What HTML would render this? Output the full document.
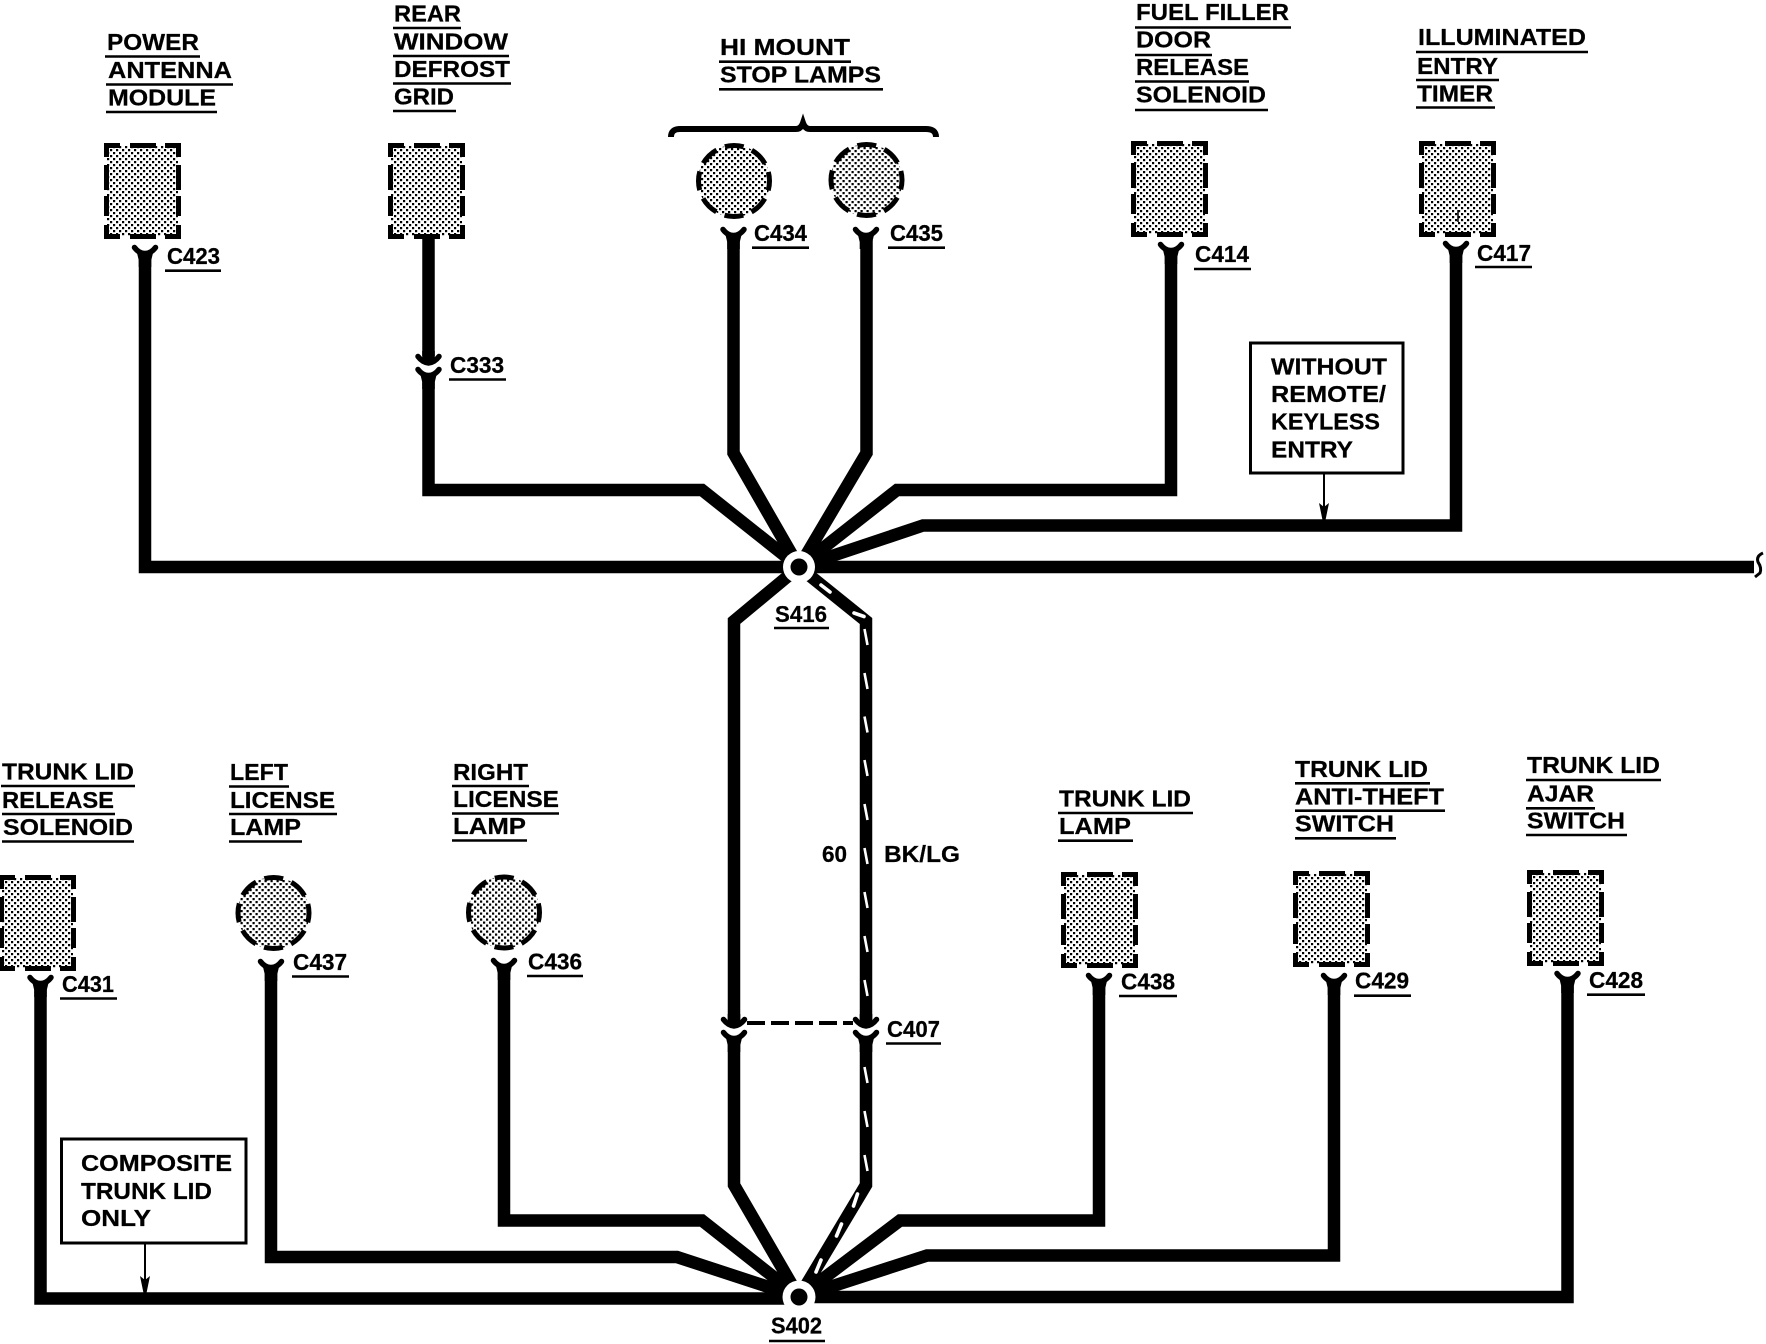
<!DOCTYPE html>
<html><head><meta charset="utf-8"><style>
html,body{margin:0;padding:0;background:#fff;width:1766px;height:1344px;overflow:hidden}
svg{display:block}
text{font-family:"Liberation Sans",sans-serif;font-weight:bold;font-size:23px;fill:#000;stroke:#000;stroke-width:.25px}
.w{fill:none;stroke:#000;stroke-width:12.5;stroke-linejoin:miter;stroke-miterlimit:8}
.u{stroke:#000;stroke-width:2.6;fill:none}
.d{fill:none;stroke:#000;stroke-width:5}
.t{stroke:#fff;stroke-width:2.6;fill:none}
.t2{stroke:#fff;stroke-width:3.6;fill:none;stroke-linecap:round}
.f{fill:#fff;stroke:#000;stroke-width:3}
</style></head><body>
<svg xmlns="http://www.w3.org/2000/svg" width="1766" height="1344" viewBox="0 0 1766 1344">
<defs>
<pattern id="st" patternUnits="userSpaceOnUse" width="6" height="6"><rect width="6" height="6" fill="#fff"/><rect width="2.2" height="2.2" fill="#000"/><rect x="3" y="3" width="2.2" height="2.2" fill="#000"/></pattern>
<g id="box">
<rect x="3" y="3" width="71" height="90" fill="url(#st)"/>
<path class="d" d="M2.5 14V2.5H16M61 2.5H74.5V14M2.5 82V93.5H16M61 93.5H74.5V82M26 2.5H52M26 93.5H52M2.5 22V47M2.5 53V73M74.5 22V47M74.5 53V73"/>
</g>
<g id="circ">
<circle r="36" fill="url(#st)"/>
<circle r="35.5" fill="none" stroke="#000" stroke-width="5" stroke-dasharray="19 8.88" stroke-dashoffset="9.5"/>
</g>
<g id="y">
<path d="M-10.5 2.5Q-6 8.5 0 8.5Q6 8.5 10.5 2.5" fill="none" stroke="#000" stroke-width="5.5" stroke-linecap="round"/>
<path d="M-8 8L8 8L6.3 15V22H-6.3V15Z"/>
</g>
<g id="a">
<path d="M-10.5 1.5Q-6 7.5 0 8Q6 7.5 10.5 1.5" fill="none" stroke="#000" stroke-width="5.5" stroke-linecap="round"/>
<path d="M-6.3 -4H6.3V8H-6.3Z"/>
</g>
</defs>
<rect width="1766" height="1344" fill="#fff"/>

<!-- components -->
<use href="#box" x="104" y="143"/>
<use href="#box" x="388" y="143"/>
<use href="#circ" x="734" y="181"/>
<use href="#circ" x="866.5" y="180"/>
<use href="#box" x="1131" y="141"/>
<use href="#box" x="1419" y="141"/>
<use href="#box" x="-1" y="875"/>
<use href="#circ" x="273.5" y="913"/>
<use href="#circ" x="504" y="912.5"/>
<use href="#box" x="1061" y="872"/>
<use href="#box" x="1293" y="871"/>
<use href="#box" x="1527" y="870"/>
<path d="M1458 210V222" stroke="#000" stroke-width="1.5"/>

<!-- brace -->
<path d="M671 137Q671 129 680 129H796Q801 129 803 123Q805 129 810 129H926Q936 129 936 137" fill="none" stroke="#000" stroke-width="6"/>

<!-- wires top -->
<path class="w" d="M145 255V567H799"/>
<path class="w" d="M428.5 238V356"/>
<path class="w" d="M428.5 378V490H702L799 567"/>
<path class="w" d="M733.5 240V453L799 567"/>
<path class="w" d="M866.5 240V453L799 567"/>
<path class="w" d="M1171 255V490H897L799 567"/>
<path class="w" d="M1456 255V525.5H923L799 567"/>
<path class="w" d="M799 567H1754"/>
<path d="M1763 553Q1756 556 1758 562Q1762 568 1760 573L1755 577" fill="none" stroke="#000" stroke-width="3"/>

<!-- trunk verticals -->
<path class="w" d="M799 567L734 621V1020"/>
<path class="w" d="M866 1020V621L799 567"/>
<path class="w" d="M734 1040V1185L799 1297"/>
<path class="w" d="M866 1040V1185L799 1297"/>

<!-- wires bottom -->
<path class="w" d="M40.5 985V1298.5H799"/>
<path class="w" d="M271 970V1257H677L799 1297"/>
<path class="w" d="M504 970V1220.5H702L799 1297"/>
<path class="w" d="M1099 985V1220.5H900L799 1297"/>
<path class="w" d="M1334 985V1255.5H927L799 1297"/>
<path class="w" d="M1567.5 985V1297H799"/>

<!-- connectors -->
<use href="#y" x="145" y="245"/>
<use href="#a" x="428.5" y="355"/>
<use href="#y" x="428.5" y="367"/>
<use href="#y" x="733.5" y="227"/>
<use href="#y" x="866" y="227"/>
<use href="#y" x="1171" y="242"/>
<use href="#y" x="1456" y="241"/>
<use href="#y" x="40.5" y="975"/>
<use href="#y" x="271" y="959"/>
<use href="#y" x="504" y="958"/>
<use href="#y" x="1099" y="973"/>
<use href="#y" x="1334" y="973"/>
<use href="#y" x="1567.5" y="971"/>
<use href="#a" x="734" y="1018"/>
<use href="#a" x="866" y="1018"/>
<use href="#y" x="734" y="1030"/>
<use href="#y" x="866" y="1030"/>
<path d="M747 1023H853" stroke="#000" stroke-width="4" stroke-dasharray="18 6" fill="none"/>

<!-- white tracer -->
<path class="t" d="M864.5 629l3 16M864.5 673l3 16M864.5 716.5l3 16M864.5 760l3 16M864.5 804l3 16M864.5 848l3 16M864.5 892l3 16M864.5 936l3 16M864.5 980l3 16M864.5 1067l3 16M864.5 1111l3 16M864.5 1155l3 16"/>
<path class="t2" d="M821 585L830 592M854 613L864 616.5M857.5 1194L853.5 1206M841.5 1224L836.5 1236M821 1260L816 1272"/>

<!-- splices -->
<circle cx="799" cy="567" r="16" fill="#fff"/><circle cx="799" cy="567" r="8.5" fill="#000"/>
<circle cx="799" cy="1297" r="16.5" fill="#fff"/><circle cx="799" cy="1297" r="8.5" fill="#000"/>

<!-- top labels -->
<text x="107" y="50" textLength="92" lengthAdjust="spacingAndGlyphs">POWER</text><path class="u" d="M105 56.5H200"/>
<text x="108" y="78" textLength="124" lengthAdjust="spacingAndGlyphs">ANTENNA</text><path class="u" d="M106 84.5H233"/>
<text x="108" y="105.5" textLength="108" lengthAdjust="spacingAndGlyphs">MODULE</text><path class="u" d="M106 112H217"/>

<text x="394" y="21.7" textLength="67" lengthAdjust="spacingAndGlyphs">REAR</text><path class="u" d="M393 28H461"/>
<text x="394" y="49.5" textLength="114" lengthAdjust="spacingAndGlyphs">WINDOW</text><path class="u" d="M393 56H509"/>
<text x="394" y="77" textLength="116" lengthAdjust="spacingAndGlyphs">DEFROST</text><path class="u" d="M393 83.5H511"/>
<text x="394" y="104.3" textLength="60" lengthAdjust="spacingAndGlyphs">GRID</text><path class="u" d="M393 111H456"/>

<text x="720" y="55" textLength="130" lengthAdjust="spacingAndGlyphs">HI MOUNT</text><path class="u" d="M719 61.7H851"/>
<text x="720" y="82.3" textLength="161" lengthAdjust="spacingAndGlyphs">STOP LAMPS</text><path class="u" d="M719 89.3H883"/>

<text x="1136" y="20" textLength="153" lengthAdjust="spacingAndGlyphs">FUEL FILLER</text><path class="u" d="M1135 27.5H1291"/>
<text x="1136" y="47.5" textLength="75" lengthAdjust="spacingAndGlyphs">DOOR</text><path class="u" d="M1135 55H1212"/>
<text x="1136" y="75" textLength="113" lengthAdjust="spacingAndGlyphs">RELEASE</text><path class="u" d="M1135 81.5H1249"/>
<text x="1136" y="102.7" textLength="130" lengthAdjust="spacingAndGlyphs">SOLENOID</text><path class="u" d="M1135 110H1268"/>

<text x="1418" y="45" textLength="168" lengthAdjust="spacingAndGlyphs">ILLUMINATED</text><path class="u" d="M1416 52H1588"/>
<text x="1417" y="74" textLength="81" lengthAdjust="spacingAndGlyphs">ENTRY</text><path class="u" d="M1416 80H1499"/>
<text x="1417" y="101.5" textLength="76" lengthAdjust="spacingAndGlyphs">TIMER</text><path class="u" d="M1416 107.5H1495"/>

<!-- bottom labels -->
<text x="2" y="779.6" textLength="132" lengthAdjust="spacingAndGlyphs">TRUNK LID</text><path class="u" d="M1 786H135"/>
<text x="2" y="808" textLength="112" lengthAdjust="spacingAndGlyphs">RELEASE</text><path class="u" d="M2 814H115"/>
<text x="3" y="835" textLength="130" lengthAdjust="spacingAndGlyphs">SOLENOID</text><path class="u" d="M2 841.5H134"/>

<text x="230" y="780" textLength="58" lengthAdjust="spacingAndGlyphs">LEFT</text><path class="u" d="M229 786.5H289"/>
<text x="230" y="808" textLength="105" lengthAdjust="spacingAndGlyphs">LICENSE</text><path class="u" d="M229 814H337"/>
<text x="230" y="835" textLength="71" lengthAdjust="spacingAndGlyphs">LAMP</text><path class="u" d="M229 841.5H302"/>

<text x="453" y="780" textLength="75" lengthAdjust="spacingAndGlyphs">RIGHT</text><path class="u" d="M452 786H529"/>
<text x="453" y="807" textLength="106" lengthAdjust="spacingAndGlyphs">LICENSE</text><path class="u" d="M452 813.5H559"/>
<text x="453" y="834" textLength="73" lengthAdjust="spacingAndGlyphs">LAMP</text><path class="u" d="M452 840.5H527"/>

<text x="1059" y="806.7" textLength="132" lengthAdjust="spacingAndGlyphs">TRUNK LID</text><path class="u" d="M1058 813H1193"/>
<text x="1059" y="834" textLength="72" lengthAdjust="spacingAndGlyphs">LAMP</text><path class="u" d="M1058 840.7H1133"/>

<text x="1295" y="777" textLength="133" lengthAdjust="spacingAndGlyphs">TRUNK LID</text><path class="u" d="M1295 783.3H1430"/>
<text x="1295" y="804.3" textLength="149" lengthAdjust="spacingAndGlyphs">ANTI-THEFT</text><path class="u" d="M1295 810.7H1445"/>
<text x="1295" y="831.7" textLength="99" lengthAdjust="spacingAndGlyphs">SWITCH</text><path class="u" d="M1295 838.3H1396"/>

<text x="1527" y="773" textLength="133" lengthAdjust="spacingAndGlyphs">TRUNK LID</text><path class="u" d="M1526 780H1661"/>
<text x="1527" y="801.7" textLength="67" lengthAdjust="spacingAndGlyphs">AJAR</text><path class="u" d="M1526 808.3H1595"/>
<text x="1527" y="828.7" textLength="98" lengthAdjust="spacingAndGlyphs">SWITCH</text><path class="u" d="M1526 835H1627"/>

<!-- connector labels -->
<text x="167" y="264" textLength="53" lengthAdjust="spacingAndGlyphs">C423</text><path class="u" d="M165 270.7H221"/>
<text x="450" y="373" textLength="54" lengthAdjust="spacingAndGlyphs">C333</text><path class="u" d="M449 379.5H506"/>
<text x="754" y="241" textLength="53" lengthAdjust="spacingAndGlyphs">C434</text><path class="u" d="M752 247.7H809"/>
<text x="890" y="241" textLength="53" lengthAdjust="spacingAndGlyphs">C435</text><path class="u" d="M888 247.7H945"/>
<text x="1195" y="262" textLength="54" lengthAdjust="spacingAndGlyphs">C414</text><path class="u" d="M1194 269H1251"/>
<text x="1477" y="261" textLength="54" lengthAdjust="spacingAndGlyphs">C417</text><path class="u" d="M1475 267H1532"/>
<text x="775" y="622" textLength="52" lengthAdjust="spacingAndGlyphs">S416</text><path class="u" d="M774 628H829"/>
<text x="887" y="1037" textLength="53" lengthAdjust="spacingAndGlyphs">C407</text><path class="u" d="M886 1043.5H941"/>
<text x="771" y="1333.5" textLength="51" lengthAdjust="spacingAndGlyphs">S402</text><path class="u" d="M769 1341H825"/>
<text x="62" y="992" textLength="52" lengthAdjust="spacingAndGlyphs">C431</text><path class="u" d="M60 998.5H117"/>
<text x="293" y="970" textLength="54" lengthAdjust="spacingAndGlyphs">C437</text><path class="u" d="M292 976.5H349"/>
<text x="528" y="969.6" textLength="54" lengthAdjust="spacingAndGlyphs">C436</text><path class="u" d="M527 976H583"/>
<text x="1121" y="989.5" textLength="54" lengthAdjust="spacingAndGlyphs">C438</text><path class="u" d="M1119 996H1177"/>
<text x="1355" y="988.5" textLength="54" lengthAdjust="spacingAndGlyphs">C429</text><path class="u" d="M1354 995.7H1411"/>
<text x="1589" y="988" textLength="54" lengthAdjust="spacingAndGlyphs">C428</text><path class="u" d="M1587 994.7H1645"/>

<text x="822" y="862" textLength="25" lengthAdjust="spacingAndGlyphs">60</text>
<text x="884" y="862" textLength="76" lengthAdjust="spacingAndGlyphs">BK/LG</text>

<!-- note boxes -->
<rect class="f" x="1250.5" y="343" width="152.5" height="130"/>
<text x="1271" y="374.5" textLength="116" lengthAdjust="spacingAndGlyphs">WITHOUT</text>
<text x="1271" y="402" textLength="115" lengthAdjust="spacingAndGlyphs">REMOTE/</text>
<text x="1271" y="429.5" textLength="109" lengthAdjust="spacingAndGlyphs">KEYLESS</text>
<text x="1271" y="457.5" textLength="82" lengthAdjust="spacingAndGlyphs">ENTRY</text>
<path d="M1324 474V510" stroke="#000" stroke-width="2"/>
<path d="M1319 503L1324 507L1329 503L1325.5 520H1322.5Z"/>

<rect class="f" x="61.5" y="1139" width="184.5" height="104"/>
<text x="81" y="1171" textLength="151" lengthAdjust="spacingAndGlyphs">COMPOSITE</text>
<text x="81" y="1199" textLength="131" lengthAdjust="spacingAndGlyphs">TRUNK LID</text>
<text x="81" y="1226" textLength="70" lengthAdjust="spacingAndGlyphs">ONLY</text>
<path d="M145 1244V1282" stroke="#000" stroke-width="2"/>
<path d="M140 1276L145 1280L150 1276L146.5 1293H143.5Z"/>
</svg>
</body></html>
